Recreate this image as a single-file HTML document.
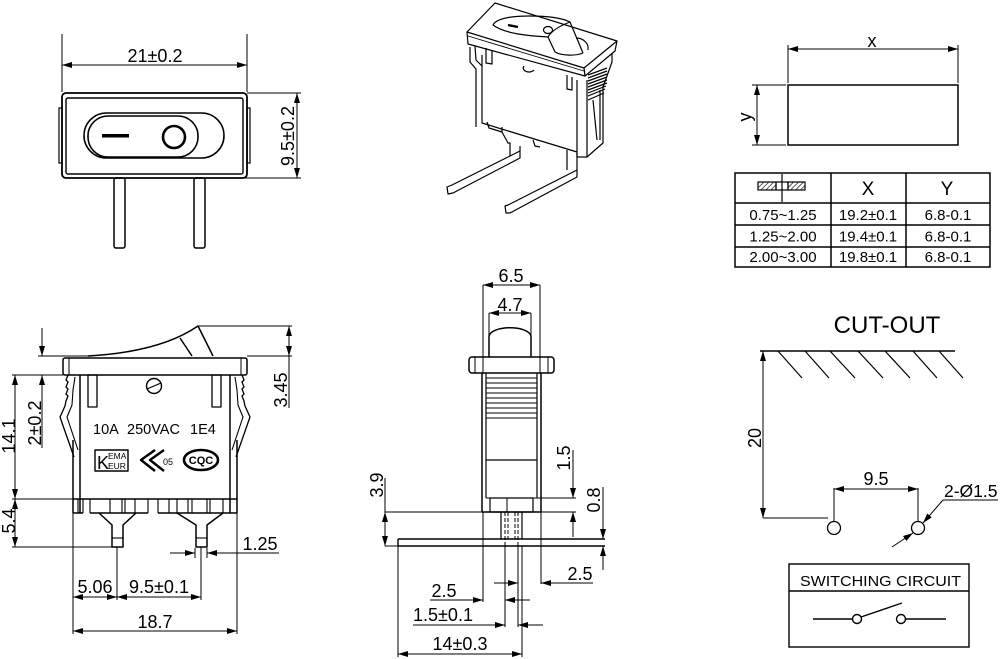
<!DOCTYPE html>
<html><head><meta charset="utf-8">
<style>
html,body{margin:0;padding:0;background:#fff;}
svg{display:block;}
text{font-family:"Liberation Sans",Arial,sans-serif;fill:#000;stroke:none;}
</style></head>
<body>
<svg width="1000" height="659" viewBox="0 0 1000 659" xmlns="http://www.w3.org/2000/svg">
<defs>
<marker id="a" viewBox="0 0 10 6" refX="10" refY="3" markerWidth="10" markerHeight="6" markerUnits="userSpaceOnUse" orient="auto-start-reverse"><path d="M0,0 L10,3 L0,6 z" fill="#000"/></marker>
<pattern id="h" width="3.5" height="3.5" patternUnits="userSpaceOnUse" patternTransform="rotate(45)"><line x1="0" y1="0" x2="0" y2="3.5" stroke="#000" stroke-width="1.3"/></pattern>
</defs>
<rect width="1000" height="659" fill="#fff"/>

<!-- ============ TOP LEFT VIEW ============ -->
<g stroke="#000" fill="none" stroke-width="1">
<line x1="62" y1="34" x2="62" y2="92"/>
<line x1="247" y1="34" x2="247" y2="92"/>
<line x1="62" y1="65" x2="247" y2="65" marker-start="url(#a)" marker-end="url(#a)"/>
<line x1="247" y1="93" x2="301" y2="93"/>
<line x1="240" y1="178" x2="301" y2="178"/>
<line x1="297" y1="93" x2="297" y2="178" marker-start="url(#a)" marker-end="url(#a)"/>
</g>
<text x="155" y="62" text-anchor="middle" font-size="18">21±0.2</text>
<text transform="translate(294,136) rotate(-90)" text-anchor="middle" font-size="18">9.5±0.2</text>
<g stroke="#000" fill="none" stroke-width="1.8">
<rect x="62" y="93" width="185" height="85" rx="4"/>
<rect x="66" y="98" width="177" height="76" rx="2" stroke-width="1.4"/>
<rect x="59" y="108" width="3" height="55" stroke-width="1.2"/>
<rect x="247" y="108" width="3" height="55" stroke-width="1.2"/>
<rect x="84" y="113" width="140" height="45" rx="22.5" stroke-width="1.6"/>
<rect x="88" y="116" width="110" height="41" rx="20" stroke-width="1.6"/>
<circle cx="174" cy="137" r="11" stroke-width="2.6"/>
<rect x="114" y="178" width="11" height="70" rx="2" stroke-width="1.5"/>
<rect x="194" y="178" width="11" height="70" rx="2" stroke-width="1.5"/>
</g>
<rect x="102" y="134" width="27" height="3.5" fill="#000"/>

<!-- ============ ISOMETRIC VIEW ============ -->
<g stroke="#000" fill="none" stroke-width="1.2" stroke-linejoin="round">
<path d="M467,32 L495,3 L617,41 L584,68 Z"/>
<path d="M467,32 L468,44 L585,76 L615,51 L617,41"/>
<path d="M584,68 L585,76"/>
<path d="M468,36 L584,71" stroke-width="0.9"/>
<!-- rocker -->
<path d="M493,25 C496,19 508,16 530,16 C548,16 562,18 570,22 C562,25 552,30 548,37 C530,36 505,34 493,25 Z"/>
<path d="M570,22 L583,53"/>
<path d="M548,37 L555,52 C562,56 576,56 583,53"/>
<path d="M576,38 C584,38 589,44 588,50"/>
<ellipse cx="548" cy="30" rx="4.5" ry="3.5"/>
<!-- body -->
<path d="M470,47 L470,62 L476,69 L476,127 M475,46 L476,60 L482,66"/>
<path d="M482,55 L482,123 L577,152 L577,80"/>
<path d="M587,80 L587,157 L603,143 L603,87 L612,62 L612,53"/>
<path d="M577,157 L587,157 M577,152 L577,157"/>
<path d="M588,75 L607,68 M588,78 L607,71 M588,81 L607,74 M588,84 L607,77 M588,87 L607,80 M588,90 L607,83 M588,93 L606,86 M588,96 L605,89 M588,100 L604,93"/>
<path d="M593,100 L597,140 M600,90 L600,140"/>
<path d="M486,48 L486,63 L492,64 L492,50"/>
<path d="M567,75 L567,89 L572,90 L572,77"/>
<path d="M524,66 A5,3.5 0 0 0 534,70"/>
<path d="M487,122 L489,128 L502,132 L502,127 M533,140 L535,146 L540,147"/>
<path d="M502,132 L508,143 L510,143 L510,156 M520,146 L520,158 L453,193 L448,194 L447,187 L452,185 L520,151"/>
<path d="M567,150 L567,170 M577,153 L577,177 L510,213 L506,213 L505,206 L508,205 L577,170"/>
</g>
<line x1="508" y1="25" x2="518" y2="27" stroke="#000" stroke-width="2.4"/>

<!-- ============ TOP RIGHT ============ -->
<g stroke="#000" fill="none" stroke-width="1">
<line x1="788" y1="45" x2="788" y2="83"/>
<line x1="958" y1="45" x2="958" y2="83"/>
<line x1="788" y1="49" x2="958" y2="49" marker-start="url(#a)" marker-end="url(#a)"/>
<line x1="752" y1="85" x2="786" y2="85"/>
<line x1="752" y1="145" x2="786" y2="145"/>
<line x1="757" y1="85" x2="757" y2="145" marker-start="url(#a)" marker-end="url(#a)"/>
<rect x="788" y="85" width="170" height="60" stroke-width="1.5"/>
</g>
<text x="872" y="47" text-anchor="middle" font-size="18">x</text>
<text transform="translate(751,117) rotate(-90)" text-anchor="middle" font-size="18">y</text>

<g stroke="#000" fill="none" stroke-width="1.5">
<rect x="735" y="173" width="255" height="94"/>
<line x1="735" y1="203" x2="990" y2="203"/>
<line x1="735" y1="225" x2="990" y2="225"/>
<line x1="735" y1="247" x2="990" y2="247"/>
<line x1="831" y1="173" x2="831" y2="267"/>
<line x1="906" y1="173" x2="906" y2="267"/>
<rect x="758" y="182" width="18" height="8" fill="url(#h)" stroke-width="1.2"/>
<rect x="788" y="182" width="17" height="8" fill="url(#h)" stroke-width="1.2"/>
<rect x="776" y="182" width="12" height="8" stroke-width="1.2"/>
<line x1="782" y1="174" x2="782" y2="202" stroke-width="1.2"/>
</g>
<g font-size="15" text-anchor="middle">
<text x="868" y="195" font-size="19">X</text>
<text x="947" y="195" font-size="19">Y</text>
<text x="783" y="220">0.75~1.25</text>
<text x="868" y="220">19.2±0.1</text>
<text x="948" y="220">6.8-0.1</text>
<text x="783" y="241.5">1.25~2.00</text>
<text x="868" y="241.5">19.4±0.1</text>
<text x="948" y="241.5">6.8-0.1</text>
<text x="783" y="262">2.00~3.00</text>
<text x="868" y="262">19.8±0.1</text>
<text x="948" y="262">6.8-0.1</text>
</g>

<!-- ============ BOTTOM LEFT FRONT VIEW ============ -->
<g stroke="#000" fill="none" stroke-width="1">
<line x1="12" y1="375" x2="63" y2="375"/>
<line x1="12" y1="499" x2="73" y2="499"/>
<line x1="12" y1="547" x2="117" y2="547"/>
<line x1="15" y1="375" x2="15" y2="499" marker-start="url(#a)" marker-end="url(#a)"/>
<line x1="15" y1="499" x2="15" y2="547" marker-start="url(#a)" marker-end="url(#a)"/>
<line x1="38" y1="356" x2="90" y2="356"/>
<line x1="42" y1="328" x2="42" y2="356" marker-end="url(#a)"/>
<line x1="42" y1="448" x2="42" y2="375" marker-end="url(#a)"/>
<line x1="198" y1="326" x2="292" y2="326"/>
<line x1="247" y1="356" x2="292" y2="356"/>
<line x1="289" y1="326" x2="289" y2="356" marker-start="url(#a)" marker-end="url(#a)"/>
<line x1="289" y1="356" x2="289" y2="408"/>
<line x1="73" y1="513" x2="73" y2="634"/>
<line x1="237" y1="513" x2="237" y2="634"/>
<line x1="117" y1="547" x2="117" y2="600"/>
<line x1="201" y1="547" x2="201" y2="600"/>
<line x1="73" y1="597" x2="117" y2="597" marker-start="url(#a)" marker-end="url(#a)"/>
<line x1="117" y1="597" x2="201" y2="597" marker-start="url(#a)" marker-end="url(#a)"/>
<line x1="73" y1="631" x2="237" y2="631" marker-start="url(#a)" marker-end="url(#a)"/>
<line x1="195" y1="548" x2="195" y2="558"/>
<line x1="207" y1="548" x2="207" y2="558"/>
<line x1="170" y1="553" x2="195" y2="553" marker-end="url(#a)"/>
<line x1="279" y1="553" x2="207" y2="553" marker-end="url(#a)"/>
</g>
<text transform="translate(15,436) rotate(-90)" text-anchor="middle" font-size="18">14.1</text>
<text transform="translate(15,521) rotate(-90)" text-anchor="middle" font-size="18">5.4</text>
<text transform="translate(41,423) rotate(-90)" text-anchor="middle" font-size="18">2±0.2</text>
<text transform="translate(287,390) rotate(-90)" text-anchor="middle" font-size="18">3.45</text>
<text x="95" y="593" text-anchor="middle" font-size="18">5.06</text>
<text x="159" y="593" text-anchor="middle" font-size="18">9.5±0.1</text>
<text x="155" y="628" text-anchor="middle" font-size="18">18.7</text>
<text x="260" y="550" text-anchor="middle" font-size="18">1.25</text>

<g stroke="#000" fill="none" stroke-width="1.5" stroke-linejoin="round">
<path d="M88,356 Q160,352 198,326 L213,356"/>
<path d="M180,338 L192,356"/>
<rect x="63" y="358" width="184" height="17" rx="2"/>
<line x1="69" y1="358" x2="69" y2="375" stroke-width="1"/>
<line x1="241" y1="358" x2="241" y2="375" stroke-width="1"/>
<line x1="73" y1="440" x2="73" y2="513"/>
<line x1="80" y1="375" x2="80" y2="513"/>
<line x1="230" y1="375" x2="230" y2="513"/>
<line x1="237" y1="440" x2="237" y2="513"/>
<path d="M68,375 L66,380 L68,382 L66,387 L68,389 L66,394 L68,396 L66,401 L65,406 L60,417 L74,457" stroke-width="1.3"/>
<path d="M75,377 L73,390 L72,405 L67,417 L78,450" stroke-width="1.1"/>
<path d="M242,375 L244,380 L242,382 L244,387 L242,389 L244,394 L242,396 L244,401 L245,406 L250,417 L236,457" stroke-width="1.3"/>
<path d="M235,377 L237,390 L238,405 L243,417 L232,450" stroke-width="1.1"/>
<rect x="88" y="375" width="9" height="32" stroke-width="1.3"/>
<rect x="212" y="375" width="9" height="32" stroke-width="1.3"/>
<circle cx="154" cy="386" r="7.5" stroke-width="1.4"/>
<line x1="147" y1="389" x2="161" y2="383" stroke-width="1.2"/>
<line x1="73" y1="499" x2="237" y2="499"/>
<path d="M73,513 L83,513 M90,513 L148,513 M158,513 L230,513 L237,513" />
<path d="M78,499 L78,513 M83,499 L83,513 M90,499 L90,513 M110,499 L110,513 M122,499 L122,513 M125,499 L125,513 M135,499 L135,513 M148,499 L148,513 M158,499 L158,513 M169,499 L169,513 M177,499 L177,513 M188,499 L188,513 M192,499 L192,513 M207,499 L207,513 M210,499 L210,513 M223,499 L223,513" stroke-width="1.1"/>
<path d="M99,513 L112,525 L112,547 L123,547 L123,525 L136,513"/>
<line x1="112" y1="538" x2="123" y2="538" stroke-width="1.1"/>
<path d="M177,513 L196,525 L196,547 L207,547 L207,525 L223,513"/>
<line x1="196" y1="538" x2="207" y2="538" stroke-width="1.1"/>
<rect x="95" y="450" width="33" height="21" stroke-width="1.4"/>
<ellipse cx="201" cy="460" rx="17" ry="10" stroke-width="2.6"/>
<path d="M155,450 L141,460 L155,471 M164,450 L150,460 L164,471" stroke-width="2.4"/>
</g>
<text x="93" y="434" font-size="14.5">10A</text>
<text x="127" y="434" font-size="14.5">250VAC</text>
<text x="190" y="434" font-size="14.5">1E4</text>
<text x="97" y="469" font-size="18">K</text>
<text x="108" y="459" font-size="8.5">EMA</text>
<text x="108" y="469" font-size="8.5">EUR</text>
<text x="163" y="465" font-size="9">05</text>
<text x="201" y="464" text-anchor="middle" font-size="11" font-weight="bold">CQC</text>

<!-- ============ SIDE VIEW ============ -->
<g stroke="#000" fill="none" stroke-width="1">
<line x1="483" y1="285" x2="483" y2="373"/>
<line x1="540" y1="285" x2="540" y2="373"/>
<line x1="483" y1="285" x2="540" y2="285" marker-start="url(#a)" marker-end="url(#a)"/>
<line x1="489" y1="313" x2="489" y2="357"/>
<line x1="531" y1="313" x2="531" y2="357"/>
<line x1="489" y1="313" x2="531" y2="313" marker-start="url(#a)" marker-end="url(#a)"/>
<line x1="385" y1="512" x2="483" y2="512"/>
<line x1="385" y1="546" x2="398" y2="546"/>
<line x1="385" y1="478" x2="385" y2="512"/>
<line x1="385" y1="512" x2="385" y2="546" marker-start="url(#a)" marker-end="url(#a)"/>
<line x1="533" y1="498" x2="576" y2="498"/>
<line x1="541" y1="512" x2="576" y2="512"/>
<line x1="573" y1="450" x2="573" y2="498" marker-end="url(#a)"/>
<line x1="573" y1="537" x2="573" y2="512" marker-end="url(#a)"/>
<line x1="603" y1="487" x2="603" y2="539" marker-end="url(#a)"/>
<line x1="603" y1="570" x2="603" y2="546" marker-end="url(#a)"/>
<line x1="483" y1="512" x2="483" y2="602"/>
<line x1="541" y1="512" x2="541" y2="584"/>
<line x1="505" y1="546" x2="505" y2="627"/>
<line x1="518" y1="546" x2="518" y2="627"/>
<line x1="522" y1="546" x2="522" y2="657"/>
<line x1="398" y1="546" x2="398" y2="657"/>
<line x1="430" y1="600" x2="483" y2="600" marker-end="url(#a)"/>
<line x1="530" y1="600" x2="505" y2="600" marker-end="url(#a)"/>
<line x1="494" y1="583" x2="518" y2="583" marker-end="url(#a)"/>
<line x1="593" y1="583" x2="541" y2="583" marker-end="url(#a)"/>
<line x1="413" y1="625" x2="505" y2="625" marker-end="url(#a)"/>
<line x1="543" y1="625" x2="518" y2="625" marker-end="url(#a)"/>
<line x1="398" y1="654" x2="522" y2="654" marker-start="url(#a)" marker-end="url(#a)"/>
</g>
<text x="511" y="282" text-anchor="middle" font-size="18">6.5</text>
<text x="510" y="311" text-anchor="middle" font-size="18">4.7</text>
<text transform="translate(383,485) rotate(-90)" text-anchor="middle" font-size="18">3.9</text>
<text transform="translate(570,458) rotate(-90)" text-anchor="middle" font-size="18">1.5</text>
<text transform="translate(600,500) rotate(-90)" text-anchor="middle" font-size="18">0.8</text>
<text x="444" y="597" text-anchor="middle" font-size="18">2.5</text>
<text x="580" y="580" text-anchor="middle" font-size="18">2.5</text>
<text x="443" y="621" text-anchor="middle" font-size="18">1.5±0.1</text>
<text x="460" y="650" text-anchor="middle" font-size="18">14±0.3</text>

<g stroke="#000" fill="none" stroke-width="1.5" stroke-linejoin="round">
<path d="M489,357 L489,336 C492,325 528,325 531,336 L531,357"/>
<rect x="469" y="357" width="85" height="16" rx="3"/>
<line x1="475" y1="357" x2="475" y2="373" stroke-width="1"/>
<line x1="548" y1="357" x2="548" y2="373" stroke-width="1"/>
<line x1="482" y1="373" x2="482" y2="512"/>
<line x1="541" y1="373" x2="541" y2="512"/>
<line x1="486" y1="373" x2="486" y2="498" stroke-width="1.2"/>
<line x1="537" y1="373" x2="537" y2="498" stroke-width="1.2"/>
<path d="M486,378 H537 M486,383 H537 M486,388 H537 M486,393 H537 M486,398 H537 M486,403 H537 M486,408 H537 M486,413 H537 M486,418 H537" stroke-width="1.1"/>
<line x1="486" y1="460" x2="537" y2="460" stroke-width="1.2"/>
<path d="M486,498 L490,498 M533,498 L537,498" stroke-width="1.1"/>
<rect x="490" y="498" width="43" height="14" stroke-width="1.2"/>
<line x1="507" y1="498" x2="507" y2="512" stroke-width="1"/>
<line x1="482" y1="512" x2="541" y2="512"/>
<path d="M501,512 L501,539 M522,512 L522,539" stroke-width="1.2"/>
<path d="M505,512 L505,546 M508,512 L508,539 M515,512 L515,539 M518,512 L518,546" stroke-width="1" stroke-dasharray="4,2"/>
<path d="M398,539 L605,539 M398,546 L605,546 M398,539 L398,546" stroke-width="1.4"/>
</g>

<!-- ============ CUT-OUT ============ -->
<text x="887" y="333" text-anchor="middle" font-size="24">CUT-OUT</text>
<g stroke="#000" fill="none" stroke-width="1.2">
<line x1="760" y1="351" x2="955" y2="351" stroke-width="1.5"/>
<path d="M778,351 L802,378 M805,351 L829,378 M830,351 L855,378 M858,351 L883,378 M885,351 L910,378 M913,351 L937,378 M939,351 L963,378"/>
<line x1="763" y1="351" x2="763" y2="518" stroke-width="1" marker-start="url(#a)" marker-end="url(#a)"/>
<line x1="763" y1="518" x2="828" y2="518" stroke-width="1"/>
<circle cx="834" cy="528" r="6.5" stroke-width="1.3"/>
<circle cx="918" cy="528" r="6.5" stroke-width="1.3"/>
<line x1="834" y1="488" x2="834" y2="521" stroke-width="1"/>
<line x1="918" y1="488" x2="918" y2="521" stroke-width="1"/>
<line x1="834" y1="489" x2="918" y2="489" stroke-width="1" marker-start="url(#a)" marker-end="url(#a)"/>
<line x1="892" y1="547" x2="913" y2="533" stroke-width="1" marker-end="url(#a)"/>
<line x1="943" y1="500" x2="923" y2="523" stroke-width="1" marker-end="url(#a)"/>
<line x1="943" y1="500" x2="998" y2="500" stroke-width="1"/>
</g>
<text transform="translate(761,438) rotate(-90)" text-anchor="middle" font-size="18">20</text>
<text x="876" y="485" text-anchor="middle" font-size="18">9.5</text>
<text x="944" y="497" font-size="17.5">2-Ø1.5</text>

<!-- ============ SWITCHING CIRCUIT ============ -->
<g stroke="#000" fill="none" stroke-width="1.4">
<rect x="789" y="564" width="180" height="83"/>
<line x1="789" y1="591" x2="969" y2="591"/>
<line x1="813" y1="619" x2="852.5" y2="619"/>
<circle cx="857" cy="619" r="4.5"/>
<line x1="861" y1="617" x2="902" y2="603"/>
<circle cx="901" cy="619" r="4.5"/>
<line x1="905.5" y1="619" x2="946" y2="619"/>
</g>
<text x="800" y="586" font-size="15" textLength="161" lengthAdjust="spacingAndGlyphs">SWITCHING CIRCUIT</text>
</svg>
</body></html>
